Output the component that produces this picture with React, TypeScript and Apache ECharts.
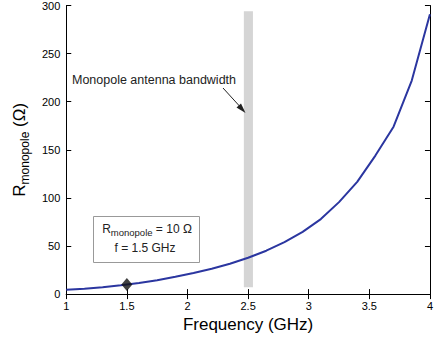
import React, { useEffect, useRef } from "react";
import * as echarts from "echarts";

const frequencies = [1.0, 1.15, 1.3, 1.45, 1.6, 1.75, 1.9, 2.05, 2.2, 2.35, 2.5, 2.65, 2.8, 2.95, 3.1, 3.25, 3.4, 3.55, 3.7, 3.85, 4.0];
const resistance = [4.4, 5.6, 7.2, 9.2, 11.6, 14.4, 18.0, 22.0, 26.3, 31.5, 37.8, 45.1, 54.0, 64.7, 78.0, 95.6, 116.7, 144, 174, 222, 291];
const markerPoint = [1.5, 10];
const bandRange = [2.465, 2.54];
const bandValues = [7, 294];
const xTicks = [1, 1.5, 2, 2.5, 3, 3.5, 4];
const yTicks = [0, 50, 100, 150, 200, 250, 300];

const FONT = "Liberation Sans, Arial, sans-serif";

export default function App() {
  const ref = useRef<HTMLDivElement>(null);
  useEffect(() => {
    if (!ref.current) return;
    const chart = echarts.init(ref.current, null, { renderer: "svg" });
    const axisCommon = {
      axisLine: { show: true, lineStyle: { color: "#000", width: 1 } },
      axisTick: { show: true, inside: true, length: 5, lineStyle: { color: "#000" } },
      splitLine: { show: false },
    };
    chart.setOption({
      animation: false,
      textStyle: { fontFamily: FONT },
      grid: { left: 63, right: 3, top: 5, bottom: 42, containLabel: false },
      xAxis: [
        {
          type: "value",
          min: xTicks[0],
          max: xTicks[xTicks.length - 1],
          interval: 0.5,
          position: "bottom",
          ...axisCommon,
          axisLabel: { color: "#000", fontSize: 11, margin: 6, fontFamily: FONT, formatter: (v: number) => String(v) },
          name: "Frequency (GHz)",
          nameLocation: "middle",
          nameGap: 16,
          nameTextStyle: { color: "#000", fontSize: 17, fontFamily: FONT, verticalAlign: "top" },
        },
        {
          type: "value",
          min: xTicks[0],
          max: xTicks[xTicks.length - 1],
          interval: 0.5,
          position: "top",
          ...axisCommon,
          axisLabel: { show: false },
        },
      ],
      yAxis: [
        {
          type: "value",
          min: yTicks[0],
          max: yTicks[yTicks.length - 1],
          interval: 50,
          position: "left",
          ...axisCommon,
          axisLabel: { color: "#000", fontSize: 11, margin: 6, fontFamily: FONT },
          name: "{r|R}{s|monopole}{r| (Ω)}",
          nameLocation: "middle",
          nameGap: 33,
          nameRotate: 90,
          nameTextStyle: {
            color: "#000",
            fontFamily: FONT,
            rich: {
              r: { fontSize: 17, color: "#000", fontFamily: FONT, lineHeight: 22, verticalAlign: "middle" },
              s: { fontSize: 12, color: "#000", fontFamily: FONT, lineHeight: 22, padding: [11, 0, 0, 0] },
            },
          },
        },
        {
          type: "value",
          min: yTicks[0],
          max: yTicks[yTicks.length - 1],
          interval: 50,
          position: "right",
          ...axisCommon,
          axisLabel: { show: false },
        },
      ],
      series: [
        {
          type: "line",
          data: frequencies.map((f, i) => [f, resistance[i]]),
          showSymbol: false,
          symbol: "none",
          lineStyle: { color: "#2b36a0", width: 2 },
          z: 3,
          markArea: {
            silent: true,
            itemStyle: { color: "#d5d5d5", opacity: 1 },
            data: [[{ coord: [bandRange[0], bandValues[0]] }, { coord: [bandRange[1], bandValues[1]] }]],
          },
        },
        {
          type: "scatter",
          data: [markerPoint],
          symbol: "diamond",
          symbolSize: [11, 13],
          itemStyle: { color: "#111" },
          z: 4,
        },
      ],
      graphic: [
        {
          type: "rect",
          shape: { x: 93.5, y: 216.5, width: 106, height: 46 },
          style: { fill: "#fff", stroke: "#999", lineWidth: 1 },
          z: 10,
        },
        {
          type: "text",
          x: 147,
          y: 229,
          style: {
            text: "{r|R}{s|monopole}{r| = 10 Ω}",
            align: "center",
            verticalAlign: "middle",
            fontFamily: FONT,
            rich: {
              r: { fontSize: 12, fill: "#222", fontFamily: FONT, lineHeight: 15 },
              s: { fontSize: 9.5, fill: "#222", fontFamily: FONT, lineHeight: 15, padding: [7, 0, 0, 0] },
            },
          },
          z: 11,
        },
        {
          type: "text",
          x: 145,
          y: 248,
          style: { text: "f = 1.5 GHz", align: "center", verticalAlign: "middle", fontSize: 12, fontFamily: FONT, fill: "#222" },
          z: 11,
        },
        {
          type: "text",
          x: 72,
          y: 80,
          style: { text: "Monopole antenna bandwidth", align: "left", verticalAlign: "middle", fontSize: 12.5, fontFamily: FONT, fill: "#222" },
          z: 11,
        },
        {
          type: "line",
          shape: { x1: 223, y1: 88, x2: 244, y2: 111 },
          style: { stroke: "#222", lineWidth: 1 },
          z: 11,
        },
        {
          type: "polygon",
          shape: { points: [[245.5, 113], [236.5, 107.5], [241, 103.5]] },
          style: { fill: "#222" },
          z: 11,
        },
      ],
    });
    return () => chart.dispose();
  }, []);
  return <div ref={ref} style={{ width: 436, height: 338, position: "absolute", left: 0, top: 0, background: "#fff" }} />;
}
